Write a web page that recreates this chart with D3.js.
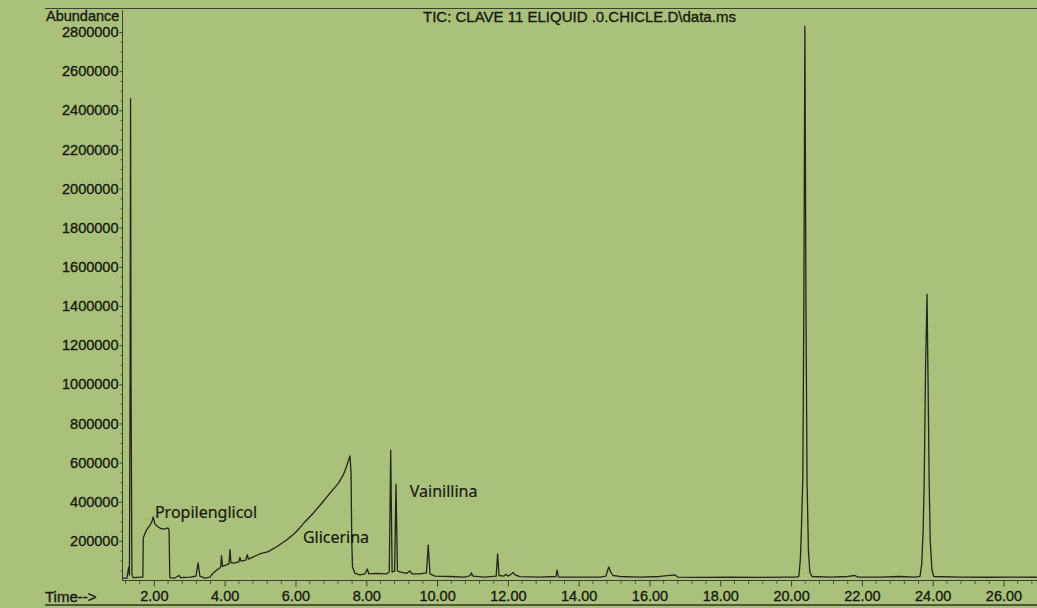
<!DOCTYPE html>
<html>
<head>
<meta charset="utf-8">
<script src="https://cdn.jsdelivr.net/npm/d3@7"></script>
<style>
  html, body { margin: 0; padding: 0; background: #a9c17b; }
  svg { display: block; }
</style>
</head>
<body>
<svg id="chart" width="1037" height="608"></svg>
<script>
// Total ion chromatogram, clave 11 e-liquid (chicle)
const chartTitle = "TIC: CLAVE 11 ELIQUID .0.CHICLE.D\\data.ms";
const yAxisTitle = "Abundance";
const xAxisTitle = "Time-->";

const yTickValues = [200000, 400000, 600000, 800000, 1000000, 1200000, 1400000,
                     1600000, 1800000, 2000000, 2200000, 2400000, 2600000, 2800000];
const xTickValues = [2, 4, 6, 8, 10, 12, 14, 16, 18, 20, 22, 24, 26];

// Retention time (min), abundance
const trace = [
  [1.12, 10000], [1.24, 10000], [1.29, 66000], [1.31, 25000], [1.33, 1100000],
  [1.342, 2460000], [1.356, 1000000], [1.38, 30000], [1.41, 12000], [1.66, 15000],
  [1.69, 15000], [1.70, 215000], [1.79, 255000], [1.89, 281000], [1.94, 296000],
  [1.98, 322000], [2.03, 286000], [2.12, 271000], [2.22, 261000], [2.31, 261000],
  [2.40, 266000], [2.43, 256000], [2.45, 12000], [2.59, 10000], [2.71, 23000],
  [2.76, 12000], [3.02, 15000], [3.19, 20000], [3.25, 87000], [3.30, 20000],
  [3.44, 10000], [3.58, 15000], [3.68, 36000], [3.78, 51000], [3.86, 61000],
  [3.89, 66000], [3.91, 125000], [3.94, 70000], [4.05, 77000], [4.12, 82000],
  [4.15, 155000], [4.18, 87000], [4.29, 87000], [4.40, 92000], [4.43, 115000],
  [4.46, 97000], [4.60, 102000], [4.64, 130000], [4.67, 107000], [4.81, 118000],
  [4.99, 133000], [5.23, 145000], [5.47, 170000], [5.75, 204000], [5.98, 239000],
  [6.12, 266000], [6.27, 298000], [6.50, 341000], [6.74, 392000], [6.97, 443000],
  [7.21, 494000], [7.35, 537000], [7.44, 579000], [7.54, 634000], [7.57, 547000],
  [7.59, 204000], [7.61, 68000], [7.68, 34000], [7.82, 26000], [7.96, 31000],
  [8.03, 56000], [8.07, 31000], [8.29, 34000], [8.57, 31000], [8.65, 41000],
  [8.69, 664000], [8.73, 41000], [8.77, 43000], [8.80, 45000], [8.84, 490000],
  [8.88, 46000], [8.95, 41000], [9.14, 34000], [9.23, 46000], [9.29, 31000],
  [9.51, 31000], [9.70, 36000], [9.75, 179000], [9.80, 31000], [9.94, 20000],
  [10.36, 18000], [10.79, 15000], [10.94, 23000], [10.97, 37000], [11.01, 20000],
  [11.35, 15000], [11.67, 20000], [11.71, 133000], [11.75, 23000], [11.89, 20000],
  [11.94, 29000], [12.00, 20000], [12.10, 31000], [12.15, 39000], [12.20, 26000],
  [12.34, 17000], [12.90, 15000], [13.36, 18000], [13.39, 51000], [13.43, 15000],
  [14.03, 15000], [14.60, 15000], [14.77, 20000], [14.82, 51000], [14.85, 66000],
  [14.90, 41000], [14.97, 23000], [15.16, 18000], [15.73, 15000], [16.29, 18000],
  [16.72, 26000], [16.80, 15000], [17.42, 13000], [18.27, 15000], [19.12, 13000],
  [19.82, 15000], [20.16, 15000], [20.22, 20000], [20.26, 100000], [20.29, 250000],
  [20.33, 511000], [20.36, 1400000], [20.39, 2830000], [20.42, 1400000], [20.45, 511000],
  [20.49, 150000], [20.53, 40000], [20.59, 18000], [21.10, 15000], [21.60, 18000],
  [21.80, 23000], [21.89, 15000], [22.51, 15000], [23.07, 18000], [23.50, 15000],
  [23.64, 18000], [23.69, 80000], [23.73, 250000], [23.76, 511000], [23.80, 1100000],
  [23.84, 1460000], [23.87, 1000000], [23.90, 511000], [23.93, 200000], [23.98, 50000],
  [24.03, 18000], [24.77, 15000], [25.62, 14000], [26.18, 15000], [26.94, 14000]
];

// Compound names, anchored in time / abundance units
const compoundNames = ["Propilenglicol", "Glicerina", "Vainillina"];
const compoundAnchors = [[2.03, 317000], [6.21, 189000], [9.23, 424000]];

const W = 1037, H = 608;
const svg = d3.select("#chart");
const ink = "#171a11";
const axisFont = "'Liberation Sans', Arial, sans-serif";

// slightly heavier printed text
function printed(sel) {
  return sel.attr("fill", ink).attr("stroke", ink).attr("stroke-width", 0.35)
    .attr("paint-order", "stroke");
}

svg.append("rect").attr("width", W).attr("height", H).attr("fill", "#a9c17b");

const x = d3.scaleLinear().domain([1.1, 27.0]).range([122, 1038.9]);
const y = d3.scaleLinear().domain([0, 2800000]).range([580, 32]);

// frame lines
svg.append("line").attr("x1", 45).attr("x2", W).attr("y1", 8.5).attr("y2", 8.5)
  .attr("stroke", "#3c4231").attr("stroke-width", 1);
svg.append("line").attr("x1", 45).attr("x2", W).attr("y1", 605).attr("y2", 605)
  .attr("stroke", "#2f3426").attr("stroke-width", 1.6);
svg.append("line").attr("x1", 122.5).attr("x2", 122.5).attr("y1", 10).attr("y2", 580.5)
  .attr("stroke", "#3c4231").attr("stroke-width", 1);
svg.append("line").attr("x1", 122).attr("x2", W).attr("y1", 580.5).attr("y2", 580.5)
  .attr("stroke", "#3c4231").attr("stroke-width", 1);

// y axis
const yAxis = d3.axisLeft(y).tickValues(yTickValues).tickSize(3).tickPadding(1)
  .tickFormat(d3.format("d"));
const gy = svg.append("g").attr("transform", "translate(122.5,0)").call(yAxis);
gy.select(".domain").remove();
gy.selectAll(".tick line").attr("stroke", "#3c4231");
printed(gy.selectAll(".tick text").attr("font-family", axisFont).attr("font-size", 14.5));

const yMinor = d3.range(50000, 2850000, 50000).filter(v => v % 200000 !== 0);
svg.append("g").selectAll("line").data(yMinor).join("line")
  .attr("x1", 120.5).attr("x2", 122.5)
  .attr("y1", d => y(d) + 0.5).attr("y2", d => y(d) + 0.5)
  .attr("stroke", "#3c4231").attr("stroke-width", 0.8);

// x axis
const xAxis = d3.axisBottom(x).tickValues(xTickValues).tickSize(6).tickPadding(4)
  .tickFormat(d3.format(".2f"));
const gx = svg.append("g").attr("transform", "translate(0,580.5)").call(xAxis);
gx.select(".domain").remove();
gx.selectAll(".tick line").attr("stroke", "#3c4231");
printed(gx.selectAll(".tick text").attr("font-family", axisFont).attr("font-size", 14.5)
  .attr("dy", "0.71em"));

const xMinor = d3.range(3, 68).map(i => +(i * 0.4).toFixed(1))
  .filter(t => Math.abs(t / 2 - Math.round(t / 2)) > 1e-6);
svg.append("g").selectAll("line").data(xMinor).join("line")
  .attr("x1", d => x(d)).attr("x2", d => x(d))
  .attr("y1", 580.5).attr("y2", 584)
  .attr("stroke", "#3c4231").attr("stroke-width", 0.8);

// titles
printed(svg.append("text").attr("x", 46).attr("y", 21)
  .attr("font-family", axisFont).attr("font-size", 14.5)
  .text(yAxisTitle));
printed(svg.append("text").attr("x", 423).attr("y", 22)
  .attr("font-family", axisFont).attr("font-size", 15)
  .text(chartTitle));
printed(svg.append("text").attr("x", 45).attr("y", 602)
  .attr("font-family", axisFont).attr("font-size", 15)
  .text(xAxisTitle));

// chromatogram trace
const line = d3.line().x(d => x(d[0])).y(d => y(d[1]));
svg.append("path").datum(trace)
  .attr("d", line)
  .attr("fill", "none")
  .attr("stroke", "#23271b")
  .attr("stroke-width", 1.3)
  .attr("stroke-linejoin", "round");

// compound labels
printed(svg.append("g").selectAll("text").data(compoundNames).join("text")
  .attr("x", (d, i) => x(compoundAnchors[i][0]))
  .attr("y", (d, i) => y(compoundAnchors[i][1]))
  .attr("font-family", "'Noto Sans', 'Open Sans', sans-serif")
  .attr("font-size", 16)
  .text(d => d))
  .attr("stroke-width", 0.2);
</script>
</body>
</html>
